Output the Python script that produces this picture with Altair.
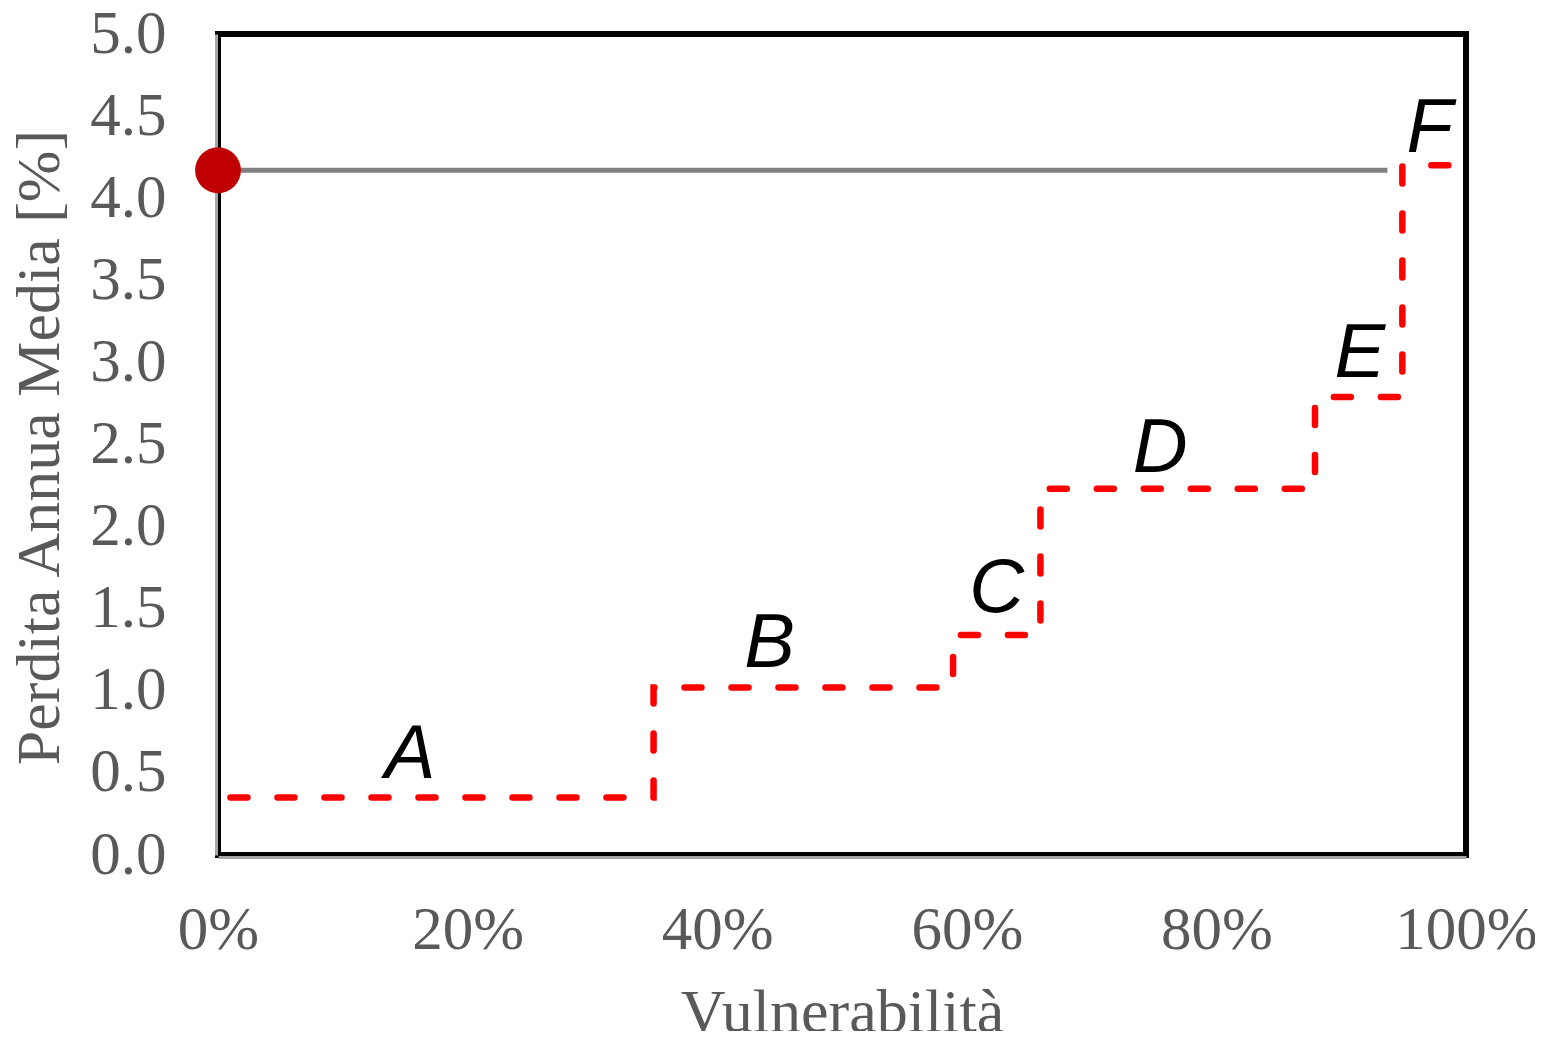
import altair as alt
import pandas as pd

# Step profile (vulnerability % vs mean annual loss %)
step_x = [1.0, 34.9, 58.9, 65.9, 87.9, 94.9, 98.7]
step_y = [0.35, 1.02, 1.34, 2.23, 2.79, 4.20, 4.20]

# Reference horizontal line and point
ref_y = 4.17
ref_x_start = 0.0
ref_x_end = 93.7

# Class labels
class_labels = ["A", "B", "C", "D", "E", "F"]
label_x = [15.4, 44.2, 62.4, 75.5, 91.5, 97.1]
label_y = [0.47, 1.145, 1.48, 2.33, 2.91, 4.28]

x_ticks = [0, 20, 40, 60, 80, 100]
y_ticks = [0.0, 0.5, 1.0, 1.5, 2.0, 2.5, 3.0, 3.5, 4.0, 4.5, 5.0]

step_df = pd.DataFrame({"x": step_x, "y": step_y})
ref_df = pd.DataFrame({"x": [ref_x_start], "x2": [ref_x_end], "y": [ref_y]})
lab_df = pd.DataFrame({"label": class_labels, "x": label_x, "y": label_y})

xscale = alt.Scale(domain=[0, 100], nice=False, zero=False)
yscale = alt.Scale(domain=[0, 5], nice=False)

serif = "Liberation Serif"
grey_text = "#595959"

xaxis = alt.Axis(
    values=x_ticks, labelExpr="datum.value + '%'", grid=False, ticks=False,
    labelFont=serif, labelFontSize=61, labelColor=grey_text, labelPadding=43,
    domainColor="#A6A6A6", domainWidth=3, offset=2,
    title="Vulnerabilità", titleFont=serif, titleFontSize=62, titleFontWeight="normal",
    titleColor=grey_text, titleX=624, titleY=174, titleBaseline="alphabetic",
    labelFlush=False,
)
yaxis = alt.Axis(
    values=y_ticks, format=".1f", grid=False, ticks=False,
    labelFont=serif, labelFontSize=61, labelColor=grey_text, labelPadding=50,
    domainColor="#A6A6A6", domainWidth=3, offset=2,
    title="Perdita Annua Media [%]", titleFont=serif, titleFontSize=62,
    titleFontWeight="normal", titleColor=grey_text, titleAngle=-90,
    titleX=-158, titleY=413, titleBaseline="alphabetic", titleAlign="center",
    labelFlush=False,
)

steps = alt.Chart(step_df).mark_line(
    interpolate="step-after", color="#FF0000", strokeWidth=6.5,
    strokeDash=[17, 30], strokeCap="round",
).encode(
    x=alt.X("x:Q", scale=xscale, axis=xaxis),
    y=alt.Y("y:Q", scale=yscale, axis=yaxis),
)

ref_line = alt.Chart(ref_df).mark_rule(color="#808080", strokeWidth=5).encode(
    x=alt.X("x:Q", scale=xscale), x2="x2:Q", y=alt.Y("y:Q", scale=yscale)
)

ref_dot = alt.Chart(ref_df).mark_circle(color="#C00000", opacity=1, size=2100).encode(
    x=alt.X("x:Q", scale=xscale), y=alt.Y("y:Q", scale=yscale)
)

labels = alt.Chart(lab_df).mark_text(
    font="Liberation Sans", fontStyle="italic", fontSize=76, color="#000000",
    align="center", baseline="alphabetic",
).encode(
    x=alt.X("x:Q", scale=xscale), y=alt.Y("y:Q", scale=yscale), text="label:N"
)

chart = alt.layer(steps, ref_line, ref_dot, labels).properties(
    width=1248, height=821,
    background="white",
    autosize=alt.AutoSizeParams(type="none"),
    padding={"left": 210, "top": 26, "right": 69, "bottom": 176},
).configure_view(stroke="#000000", strokeWidth=6)

chart.save("out.html", embed_options={"renderer": "svg", "actions": False})
